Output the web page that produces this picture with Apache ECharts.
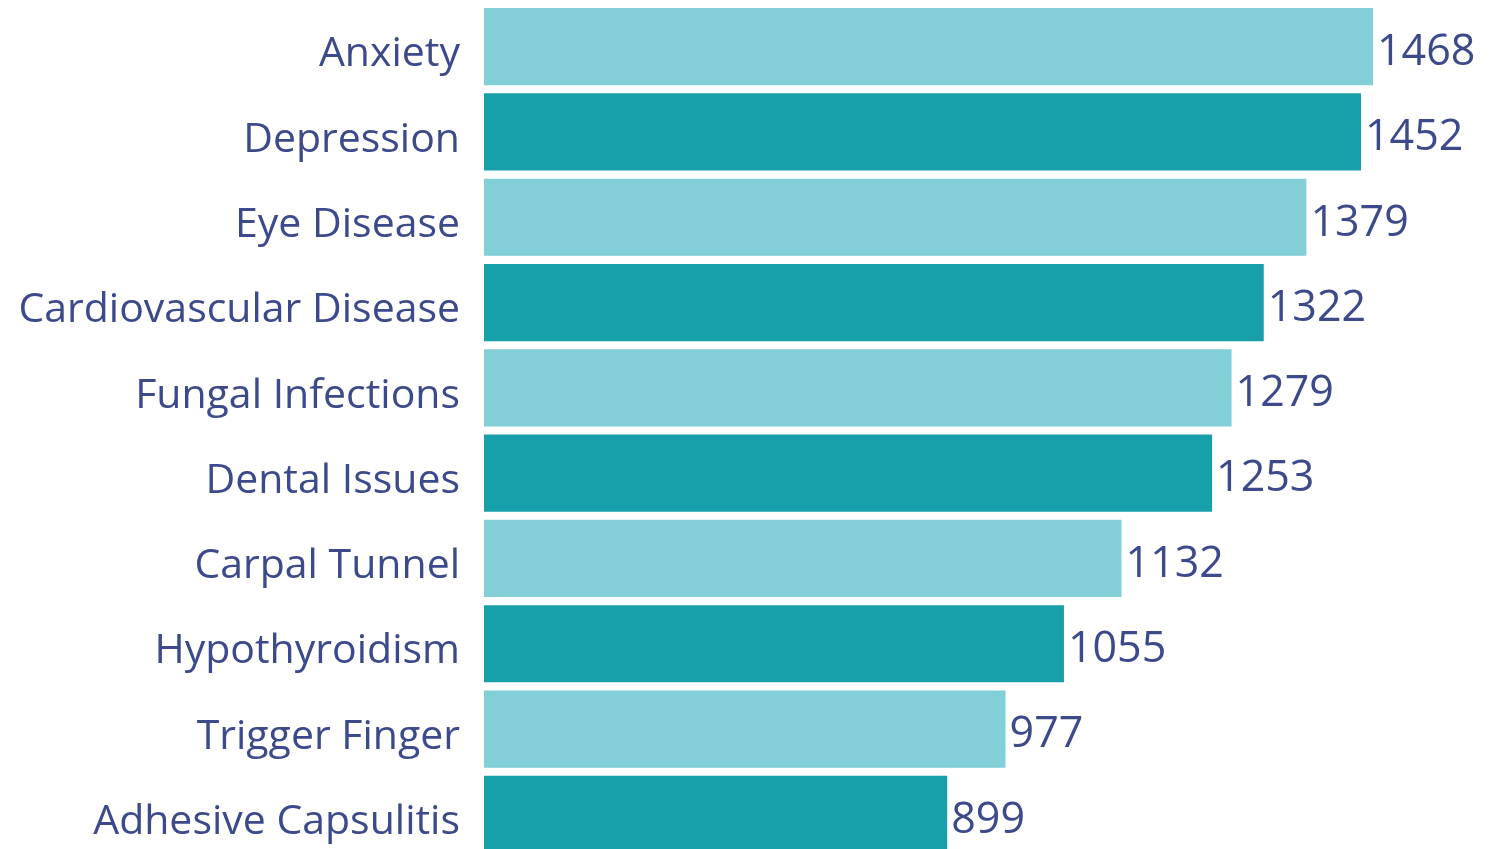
<!DOCTYPE html>
<html>
<head>
<meta charset="utf-8">
<script src="https://cdn.jsdelivr.net/npm/echarts@6/dist/echarts.min.js"></script>
<style>
  html, body { margin: 0; padding: 0; background: #ffffff; overflow: hidden; }
  #chart { width: 1501px; height: 849px; }
</style>
</head>
<body>
<div id="chart"></div>
<script>
// Conditions, listed top to bottom
const categories = [
  'Anxiety', 'Depression', 'Eye Disease', 'Cardiovascular Disease',
  'Fungal Infections', 'Dental Issues', 'Carpal Tunnel', 'Hypothyroidism',
  'Trigger Finger', 'Adhesive Capsulitis'
];
// Number of cases per condition
const counts = [1468, 1452, 1379, 1322, 1279, 1253, 1132, 1055, 977, 899];

const LIGHT = '#82CFD8';
const DARK = '#18A0AA';
const TEXT = '#3C4A8C';
const FONT = '"Open Sans", "Noto Sans", sans-serif';

const chart = echarts.init(document.getElementById('chart'), null, { renderer: 'canvas' });

chart.setOption({
  animation: false,
  backgroundColor: '#ffffff',
  // the last bar runs slightly past the bottom edge
  grid: {
    left: 484, right: 128, top: 4, height: 853,
    containLabel: false,
    outerBoundsMode: 'none'
  },
  xAxis: {
    type: 'value',
    min: 280,
    max: 1468,
    show: false
  },
  yAxis: {
    type: 'category',
    inverse: true,
    data: categories,
    axisLine: { show: false },
    axisTick: { show: false },
    splitLine: { show: false },
    axisLabel: {
      margin: 24,
      formatter: (name) => '{c|' + name + '}',
      rich: {
        c: {
          color: TEXT,
          fontFamily: FONT,
          fontSize: 41,
          padding: [16, 0, 0, 0]
        }
      }
    }
  },
  series: [{
    type: 'bar',
    data: counts.map((v, i) => ({
      value: v,
      itemStyle: { color: i % 2 === 0 ? LIGHT : DARK }
    })),
    barCategoryGap: '9.5%',
    label: {
      show: true,
      position: 'right',
      distance: 4,
      color: TEXT,
      fontFamily: FONT,
      fontSize: 43,
      offset: [0, 6]
    }
  }]
});
</script>
</body>
</html>
